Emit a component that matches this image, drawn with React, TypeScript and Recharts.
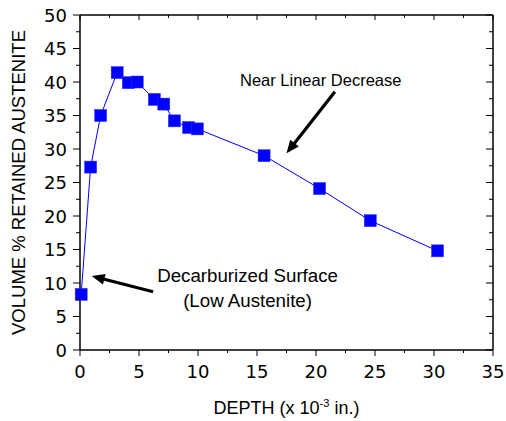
import React from 'react';
import { ComposedChart, Line, XAxis, YAxis, ReferenceLine, ReferenceDot, Label } from 'recharts';

const depth = [0.1, 0.9, 1.75, 3.15, 4.1, 4.85, 6.3, 7.1, 8.0, 9.2, 9.95, 15.6, 20.3, 24.6, 30.3];
const austenite = [8.3, 27.3, 35.0, 41.4, 39.9, 40.0, 37.4, 36.7, 34.2, 33.2, 33.0, 29.0, 24.1, 19.3, 14.8];

const xTicks = [0, 2.5, 5, 7.5, 10, 12.5, 15, 17.5, 20, 22.5, 25, 27.5, 30, 32.5, 35];
const xMajor = [0, 5, 10, 15, 20, 25, 30, 35];
const yTicks = [0, 2.5, 5, 7.5, 10, 12.5, 15, 17.5, 20, 22.5, 25, 27.5, 30, 32.5, 35, 37.5, 40, 42.5, 45, 47.5, 50];
const yMajor = [0, 5, 10, 15, 20, 25, 30, 35, 40, 45, 50];

const arrows = [
  { from: [21.6, 38.55], to: [17.5, 29.36] },
  { from: [6.2, 8.7], to: [0.99, 11.04] },
];
const notes = [
  { text: 'Near Linear Decrease', x: 20.4, y: 39.4, size: 16.5 },
  { text: 'Decarburized Surface', x: 14.2, y: 10.1, size: 18.7 },
  { text: '(Low Austenite)', x: 14.2, y: 6.4, size: 18.7 },
];

const data = depth.map((d, i) => ({ d, a: austenite[i] }));

const W = 506;
const H = 421;
const M = { top: 15, right: 13, left: 0, bottom: 0 };
const YW = 80;
const XH = 71;
const PLOT_TOP = M.top;
const PLOT_RIGHT = W - M.right;

const TICK_FONT = 'DejaVu Sans, Verdana, sans-serif';
const LABEL_FONT = 'Liberation Sans, Arial, sans-serif';

const XTick = (props: any) => {
  const { x, y, payload } = props;
  const v = payload.value;
  const major = xMajor.includes(v);
  return (
    <g>
      <line x1={x} y1={y} x2={x} y2={y + (major ? 6 : 3)} stroke="#000" strokeWidth={1} />
      <line x1={x} y1={PLOT_TOP} x2={x} y2={PLOT_TOP + (major ? 5 : 3)} stroke="#000" strokeWidth={1} />
      {major && (
        <text x={x} y={y + 28} textAnchor="middle" fontFamily={TICK_FONT} fontSize={18} fill="#000">
          {v}
        </text>
      )}
    </g>
  );
};

const YTick = (props: any) => {
  const { x, y, payload } = props;
  const v = payload.value;
  const major = yMajor.includes(v);
  return (
    <g>
      <line x1={x} y1={y} x2={x - (major ? 7 : 4)} y2={y} stroke="#000" strokeWidth={1} />
      <line x1={PLOT_RIGHT} y1={y} x2={PLOT_RIGHT - (major ? 7 : 4)} y2={y} stroke="#000" strokeWidth={1} />
      {major && (
        <text x={x - 13} y={y + 6.5} textAnchor="end" fontFamily={TICK_FONT} fontSize={18} fill="#000">
          {v}
        </text>
      )}
    </g>
  );
};

const Square = (props: any) => {
  const { cx, cy } = props;
  if (cx == null || cy == null) return null;
  return <rect x={cx - 6} y={cy - 6} width={12} height={12} fill="#0000ff" stroke="#2a2aff" strokeWidth={0.5} />;
};

const ArrowShape = (props: any) => {
  const { x1, y1, x2, y2 } = props;
  const dx = x2 - x1;
  const dy = y2 - y1;
  const len = Math.sqrt(dx * dx + dy * dy) || 1;
  const ux = dx / len;
  const uy = dy / len;
  const hl = 13;
  const hw = 5.5;
  const bx = x2 - ux * hl;
  const by = y2 - uy * hl;
  const px = -uy;
  const py = ux;
  return (
    <g>
      <line x1={x1} y1={y1} x2={bx + ux * 2} y2={by + uy * 2} stroke="#000" strokeWidth={3.2} />
      <polygon
        points={`${x2},${y2} ${bx + px * hw},${by + py * hw} ${bx - px * hw},${by - py * hw}`}
        fill="#000"
      />
    </g>
  );
};

const noteShape = (text: string, size: number) => (props: any) => {
  const { cx, cy } = props;
  return (
    <text x={cx} y={cy} textAnchor="middle" fontFamily={LABEL_FONT} fontSize={size} fill="#000">
      {text}
    </text>
  );
};

const XLabel = (props: any) => {
  const vb = props.viewBox;
  const cx = vb.x + vb.width / 2;
  const by = vb.y + 64;
  return (
    <text x={cx} y={by} textAnchor="middle" fontFamily={LABEL_FONT} fontSize={18} fill="#000">
      <tspan>DEPTH (x 10</tspan>
      <tspan fontSize={11} dy={-7}>-3</tspan>
      <tspan dy={7}> in.)</tspan>
    </text>
  );
};

const YLabel = (props: any) => {
  const vb = props.viewBox;
  const x = 25;
  const y = vb.y + vb.height / 2;
  return (
    <text
      x={x}
      y={y}
      transform={`rotate(-90, ${x}, ${y})`}
      textAnchor="middle"
      fontFamily={LABEL_FONT}
      fontSize={18.5}
      fill="#000"
    >
      VOLUME % RETAINED AUSTENITE
    </text>
  );
};

export default function App() {
  return (
    <div style={{ position: 'absolute', left: 0, top: 0 }}>
      <ComposedChart width={W} height={H} data={data} margin={M}>
        <XAxis
          dataKey="d"
          type="number"
          domain={[0, 35]}
          ticks={xTicks}
          interval={0}
          height={XH}
          tickSize={0}
          tickMargin={0}
          tickLine={false}
          axisLine={{ stroke: '#000', strokeWidth: 1.5 }}
          tick={<XTick />}
        >
          <Label content={<XLabel />} />
        </XAxis>
        <YAxis
          type="number"
          domain={[0, 50]}
          ticks={yTicks}
          interval={0}
          width={YW}
          tickSize={0}
          tickMargin={0}
          tickLine={false}
          axisLine={{ stroke: '#000', strokeWidth: 1.5 }}
          tick={<YTick />}
        >
          <Label content={<YLabel />} />
        </YAxis>
        <ReferenceLine y={50} stroke="#000" strokeWidth={1.5} />
        <ReferenceLine x={35} stroke="#000" strokeWidth={1.5} />
        {arrows.map((a, i) => (
          <ReferenceLine
            key={'ar' + i}
            segment={[
              { x: a.from[0], y: a.from[1] },
              { x: a.to[0], y: a.to[1] },
            ]}
            ifOverflow="visible"
            shape={ArrowShape}
          />
        ))}
        {notes.map((n, i) => (
          <ReferenceDot key={'nt' + i} x={n.x} y={n.y} r={0} ifOverflow="visible" shape={noteShape(n.text, n.size)} />
        ))}
        <Line
          dataKey="a"
          stroke="#0000ff"
          strokeWidth={1}
          dot={<Square />}
          activeDot={false}
          isAnimationActive={false}
        />
      </ComposedChart>
    </div>
  );
}
